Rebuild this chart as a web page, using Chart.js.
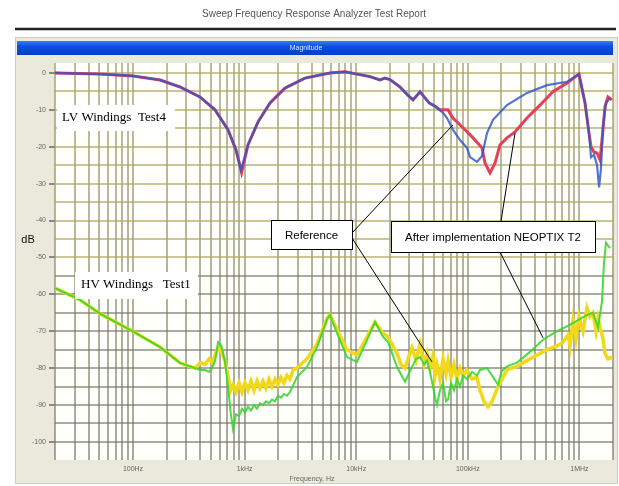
<!DOCTYPE html>
<html>
<head>
<meta charset="utf-8">
<script src="https://cdn.jsdelivr.net/npm/chart.js@4.4.1/dist/chart.umd.min.js"></script>
<style>
  html, body { margin: 0; padding: 0; background: #fff; }
  #wrap { width: 619px; height: 486px; }
</style>
</head>
<body>
<div id="wrap"><canvas id="sfra" width="619" height="486"></canvas></div>
<script>
// Axis labels
const reportTitle = 'Sweep Frequency Response Analyzer Test Report';
const decadeValues = [100, 1000, 10000, 100000, 1000000];
const decadeLabels = ['100Hz', '1kHz', '10kHz', '100kHz', '1MHz'];

// LV windings, Test4 - reference (blue)
const lvRefFreq = [20, 51, 100, 175, 264, 398, 543, 710, 838, 929, 1072, 1318, 1690, 2302, 3476, 5821, 7943, 13305, 16330, 18000,
  20090, 24660, 29000, 32280, 37330, 45000, 50820, 59980, 65160, 73620, 85120, 98400, 104700, 120800, 134000, 148600, 168300,
  224400, 339000, 513000, 774600, 991000, 1122000, 1219000, 1271000, 1352000, 1439000, 1500000, 1560000, 1626000, 1730000, 1879000];
const lvRefDb = [0, -0.3, -0.8, -1.9, -3.8, -6.5, -10, -15.4, -20.9, -26.3, -19.5, -13.3, -8.1, -4.1, -1.4, 0, 0.3, -1, -1.9, -1.4,
  -1.8, -3.8, -6, -7.3, -5.1, -8.1, -9, -10.8, -12.2, -15.4, -18.2, -20.3, -22.8, -24.1, -22.5, -16.3, -12.7,
  -8.7, -5.4, -3.3, -2.4, -0.3, -8.1, -16.3, -22.8, -22.2, -25, -31, -26, -14.6, -8.1, -6.8];

// LV windings - after implementation NEOPTIX T2 (red)
const lvAfterFreq = [20, 51, 100, 175, 264, 398, 543, 710, 838, 940, 1072, 1318, 1690, 2302, 3476, 5821, 7943, 13305, 16330, 18000,
  20090, 24660, 29000, 32280, 37330, 45000, 50820, 56360, 66530, 73620, 94420, 111400, 134000, 142600, 158100, 175400, 194100,
  224400, 264800, 339000, 443600, 579600, 774600, 991000, 1122000, 1219000, 1271000, 1352000, 1439000, 1531000, 1626000,
  1694000, 1803000, 1959000];
const lvAfterDb = [0, -0.3, -0.8, -1.9, -3.8, -6.5, -10, -15.4, -20.9, -27, -19.5, -13.3, -8.1, -4.1, -1.4, 0, 0.3, -1, -1.9, -1.4,
  -1.8, -3.8, -6, -7.3, -5.1, -8.1, -9, -10, -10, -12.2, -15.4, -17.6, -20.3, -24.4, -27.1, -24.4, -19.5,
  -17.6, -16, -12.2, -8.7, -5.1, -2.7, -0.3, -8.1, -16.3, -20, -21.5, -21.7, -23.6, -15.4,
  -9.2, -6.5, -7.3];

// HV windings, Test1 - reference (yellow)
const hvRefFreq = [20, 33.5, 51, 94, 175, 264, 359, 400, 442, 480, 510, 545, 578, 620, 665, 710, 750, 787, 838, 891,
  948, 1008, 1072, 1141, 1214, 1291, 1373, 1461, 1554, 1653, 1759, 1871, 1990, 2117, 2252, 2396, 2549, 2716, 2946, 3622,
  4457, 5470, 5821, 6730, 8260, 10160, 12500, 14720, 17380, 19280, 23220, 25200, 27370, 29500, 31620, 34360, 37330, 40480,
  43060, 45820, 48760, 50820, 52970, 56360, 59980, 63800, 66530, 70660, 75160, 79980, 85120, 90580, 98400, 109060, 120800,
  128500, 139700, 151700, 164800, 186700, 224400, 276000, 360600, 513000, 629600, 713000, 790800, 824200, 877000, 931000,
  991000, 1076600, 1170000, 1244600, 1324000, 1409000, 1469000, 1531000, 1626000, 1694000, 1803000, 1959000];
const hvRefDb = [-58.3, -61.5, -65.3, -69.6, -74.3, -78.6, -80, -78.5, -79, -77.5, -78.5, -76.5, -74.5, -75.5, -78, -82, -86, -84.5, -86.5, -84,
  -86.5, -84, -86, -83.5, -86, -83.5, -85.5, -83.5, -85.5, -83, -85, -83, -84.5, -82.5, -84, -82, -83, -80.5, -80, -77.5,
  -73.5, -66.5, -65.5, -69.5, -75, -76.5, -71.5, -67.5, -70.5, -71.5, -76, -79, -80, -77, -74.5, -78, -73.5, -79,
  -76, -80, -76.5, -82, -79, -83, -77.5, -81.5, -78, -82.5, -79, -83, -80, -82, -80.5, -83, -82.5,
  -86, -89, -90.5, -89, -85, -80.5, -79.5, -77.5, -75, -74, -73, -71, -74, -67, -72,
  -66, -70, -63.7, -66, -65, -70, -66.5, -69, -72, -76, -77.5, -77];

// HV windings - after implementation NEOPTIX T2 (green)
const hvAfterFreq = [20, 33.5, 51, 94, 175, 264, 359, 400, 442, 480, 510, 545, 578, 620, 665, 710, 750, 787, 838, 891,
  948, 1008, 1072, 1141, 1214, 1291, 1373, 1461, 1554, 1653, 1759, 1871, 1990, 2117, 2252, 2396, 2549, 2946, 3622, 4457,
  5470, 5821, 6730, 8260, 10160, 12500, 14720, 17380, 19280, 23220, 27370, 31620, 34360, 37330, 40480, 43060, 45820, 48760,
  50820, 52970, 56360, 59980, 63800, 66530, 70660, 75160, 79980, 85120, 90580, 98400, 109060, 120800, 128500, 148600,
  164800, 186700, 200000, 224400, 276000, 360600, 472000, 629600, 824200, 1170000, 1324000, 1469000, 1592000, 1660000,
  1730000, 1879000];
const hvAfterDb = [-58.3, -61.5, -65.3, -69.6, -74.3, -78.6, -80, -80.5, -80.5, -81, -80, -78, -73, -74, -78, -85, -92, -96.5, -92.5, -93,
  -91, -92, -90.5, -91.5, -90, -91, -89.5, -90, -89, -89.5, -88.5, -89, -87.5, -88, -87, -87.5, -86.5, -82.4, -79.7, -74.3,
  -66.9, -65.6, -70.5, -77, -78.3, -72.4, -67.5, -71.5, -72.9, -79.7, -83.7, -79.7, -77.5, -77, -79, -78, -81, -85,
  -88, -90, -86, -84, -89, -88.5, -84, -86, -83, -85, -82, -83, -81, -82, -80.5, -80,
  -82, -84.5, -81, -79.5, -78.5, -75.6, -72.3, -70, -68.3, -65.6, -65, -69, -62, -51.5,
  -46, -47.5];

// Where the callout lines touch the curves: ref top, ref bottom, after top, after bottom
const pointerFreq = [73600, 47760, 264800, 472000];
const pointerDb = [-14.1, -78.3, -16.3, -71.8];

const toPoints = (f, d) => f.map((v, i) => ({ x: v, y: d[i] }));

Chart.defaults.font.family = '"Liberation Sans", Arial, sans-serif';

// vertical grid goes from olive at the top to grey at the bottom
let vGrad = null;
function verticalGridColor(c) {
  const a = c.chart.chartArea;
  if (!a) return 'rgba(120,120,95,0.55)';
  if (!vGrad) {
    vGrad = c.chart.ctx.createLinearGradient(0, a.top, 0, a.bottom);
    vGrad.addColorStop(0, 'rgba(150,145,90,0.6)');
    vGrad.addColorStop(0.45, 'rgba(135,132,95,0.6)');
    vGrad.addColorStop(1, 'rgba(110,110,100,0.6)');
  }
  return vGrad;
}

// Report frame, panel and blue header bar
const framePlugin = {
  id: 'frame',
  beforeDraw(chart) {
    const c = chart.ctx, a = chart.chartArea;
    c.save();
    c.fillStyle = '#fff';
    c.fillRect(0, 0, chart.width, chart.height);
    c.fillStyle = '#555';
    c.font = '10px "Liberation Sans", Arial';
    c.textAlign = 'center';
    c.textBaseline = 'middle';
    c.fillText(reportTitle, 314, 14);
    c.strokeStyle = '#222';
    c.lineWidth = 2.5;
    c.beginPath(); c.moveTo(15, 29); c.lineTo(616, 29); c.stroke();

    c.fillStyle = '#ebe8dc';
    c.fillRect(15, 37, 603, 447);
    c.strokeStyle = '#cfccbe';
    c.lineWidth = 1;
    c.strokeRect(15.5, 37.5, 602, 446);

    const g = c.createLinearGradient(0, 41, 0, 55);
    g.addColorStop(0, '#3a7af5');
    g.addColorStop(0.4, '#0a4ee0');
    g.addColorStop(1, '#0040c8');
    c.fillStyle = g;
    c.fillRect(17, 41, 596, 14);
    c.fillStyle = '#dfe8ff';
    c.font = '7px "Liberation Sans", Arial';
    c.fillText('Magnitude', 306, 48);

    c.fillStyle = '#fffffb';
    c.fillRect(a.left, a.top, a.right - a.left, a.bottom - a.top);

    c.fillStyle = '#111';
    c.font = '11px "Liberation Sans", Arial';
    c.fillText('dB', 28, 240);
    c.fillStyle = '#666';
    c.font = '7px "Liberation Sans", Arial';
    c.fillText('Frequency, Hz', 312, 479);
    c.restore();
  },
  afterDatasetsDraw(chart) {
    const c = chart.ctx;
    const xs = chart.scales.x, ys = chart.scales.y;
    c.save();

    // plain white labels in serif
    c.font = '13px "Liberation Serif", "Times New Roman", serif';
    c.textBaseline = 'middle';
    c.textAlign = 'left';
    c.fillStyle = '#fff';
    c.fillRect(57, 105, 118, 26);
    c.fillRect(75, 272, 123, 27);
    c.fillStyle = '#000';
    c.fillText('LV Windings  Test4', 62, 118);
    c.fillText('HV Windings   Test1', 81, 285);

    // callout lines
    const starts = [[352, 233], [352, 238], [501, 221], [500, 252]];
    c.strokeStyle = '#000';
    c.lineWidth = 1;
    starts.forEach((s, i) => {
      c.beginPath();
      c.moveTo(s[0], s[1]);
      c.lineTo(xs.getPixelForValue(pointerFreq[i]), ys.getPixelForValue(pointerDb[i]));
      c.stroke();
    });

    // bordered callout boxes
    c.font = '11.5px "Liberation Sans", Arial';
    c.textAlign = 'center';
    [['Reference', 271, 220, 81, 29], ['After implementation NEOPTIX T2', 391, 221, 204, 31]].forEach(b => {
      c.fillStyle = '#fff';
      c.fillRect(b[1], b[2], b[3], b[4]);
      c.strokeRect(b[1] + 0.5, b[2] + 0.5, b[3], b[4]);
      c.fillStyle = '#000';
      c.fillText(b[0], b[1] + b[3] / 2, b[2] + b[4] / 2 + 1);
    });
    c.restore();
  }
};

const ctx = document.getElementById('sfra').getContext('2d');

new Chart(ctx, {
  type: 'line',
  data: {
    datasets: [
      { label: 'LV Reference', data: toPoints(lvRefFreq, lvRefDb), borderColor: 'rgba(45,85,205,0.82)', borderWidth: 2.2, order: 1 },
      { label: 'LV After', data: toPoints(lvAfterFreq, lvAfterDb), borderColor: '#e4405c', borderWidth: 3, order: 2 },
      { label: 'HV After', data: toPoints(hvAfterFreq, hvAfterDb), borderColor: 'rgba(55,215,45,0.9)', borderWidth: 2, order: 3 },
      { label: 'HV Reference', data: toPoints(hvRefFreq, hvRefDb), borderColor: '#f2d81a', borderWidth: 3.5, order: 4 }
    ]
  },
  options: {
    responsive: false,
    animation: false,
    events: [],
    elements: { point: { radius: 0 }, line: { tension: 0 } },
    layout: { padding: { left: 15, right: 6, top: 63, bottom: 0 } },
    plugins: { legend: { display: false }, tooltip: { enabled: false } },
    scales: {
      x: {
        type: 'logarithmic',
        min: 20,
        max: 2000000,
        border: { display: false },
        grid: { color: verticalGridColor, lineWidth: 2, drawTicks: false },
        ticks: {
          autoSkip: false,
          maxRotation: 0,
          padding: 5,
          color: '#666',
          font: { size: 7 },
          callback: (v) => {
            const i = decadeValues.indexOf(v);
            return i >= 0 ? decadeLabels[i] : '';
          }
        },
        afterBuildTicks: (s) => {
          const t = [];
          [10, 100, 1000, 10000, 100000, 1000000].forEach(d => {
            for (let m = 1; m <= 9; m++) {
              if (d * m >= 20 && d * m <= 2000000) t.push({ value: d * m });
            }
          });
          s.ticks = t;
        },
        afterFit: (s) => { s.height = 26; }
      },
      y: {
        min: -104.9,
        max: 2.7,
        border: { display: false },
        grid: {
          color: (c) => (c.tick && c.tick.value < -52) ? 'rgba(115,115,100,0.6)' : 'rgba(175,168,95,0.65)',
          lineWidth: 2,
          tickLength: 6,
          tickColor: (c) => (c.tick && c.tick.value % 10 === 0) ? '#888' : 'rgba(0,0,0,0)'
        },
        ticks: {
          color: '#666',
          font: { size: 7 },
          padding: 3,
          callback: (v) => (v % 10 === 0 ? String(v) : '')
        },
        afterBuildTicks: (s) => {
          const t = [];
          for (let v = 0; v >= -100; v -= 5) t.push({ value: v });
          s.ticks = t;
        },
        afterFit: (s) => { s.width = 40; }
      }
    }
  },
  plugins: [framePlugin]
});
</script>
</body>
</html>
